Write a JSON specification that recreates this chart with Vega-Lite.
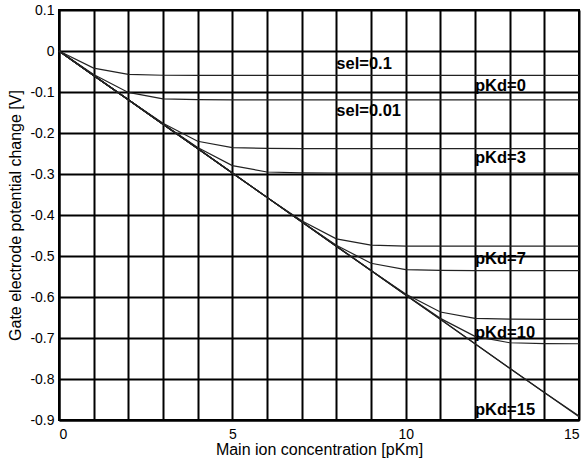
{
  "$schema": "https://vega.github.io/schema/vega-lite/v6.json",
  "autosize": "none",
  "width": 520,
  "height": 410,
  "padding": {"left": 59, "top": 10, "right": 9, "bottom": 46},
  "background": "white",
  "config": {
    "font": "Liberation Sans",
    "view": {"stroke": "black", "strokeWidth": 2},
    "axis": {
      "domainColor": "black", "domainWidth": 2,
      "gridColor": "black", "gridWidth": 2, "gridOpacity": 1,
      "ticks": false, "tickSize": 0,
      "labelFont": "Liberation Sans", "labelFontSize": 14, "labelColor": "black",
      "titleFont": "Liberation Sans", "titleFontSize": 16, "titleFontWeight": "normal", "titleColor": "black"
    }
  },
  "datasets": {
    "curves": [
      {"pKm": 0, "E": 0, "series": "pKd=0 sel=0.1"},
      {"pKm": 1, "E": -0.0416, "series": "pKd=0 sel=0.1"},
      {"pKm": 2, "E": -0.0571, "series": "pKd=0 sel=0.1"},
      {"pKm": 3, "E": -0.0592, "series": "pKd=0 sel=0.1"},
      {"pKm": 4, "E": -0.0595, "series": "pKd=0 sel=0.1"},
      {"pKm": 5, "E": -0.0595, "series": "pKd=0 sel=0.1"},
      {"pKm": 6, "E": -0.0595, "series": "pKd=0 sel=0.1"},
      {"pKm": 7, "E": -0.0595, "series": "pKd=0 sel=0.1"},
      {"pKm": 8, "E": -0.0595, "series": "pKd=0 sel=0.1"},
      {"pKm": 9, "E": -0.0595, "series": "pKd=0 sel=0.1"},
      {"pKm": 10, "E": -0.0595, "series": "pKd=0 sel=0.1"},
      {"pKm": 11, "E": -0.0595, "series": "pKd=0 sel=0.1"},
      {"pKm": 12, "E": -0.0595, "series": "pKd=0 sel=0.1"},
      {"pKm": 13, "E": -0.0595, "series": "pKd=0 sel=0.1"},
      {"pKm": 14, "E": -0.0595, "series": "pKd=0 sel=0.1"},
      {"pKm": 15, "E": -0.0595, "series": "pKd=0 sel=0.1"},

      {"pKm": 0, "E": 0, "series": "pKd=0 sel=0.01"},
      {"pKm": 1, "E": -0.0571, "series": "pKd=0 sel=0.01"},
      {"pKm": 2, "E": -0.1011, "series": "pKd=0 sel=0.01"},
      {"pKm": 3, "E": -0.1166, "series": "pKd=0 sel=0.01"},
      {"pKm": 4, "E": -0.1187, "series": "pKd=0 sel=0.01"},
      {"pKm": 5, "E": -0.119, "series": "pKd=0 sel=0.01"},
      {"pKm": 6, "E": -0.119, "series": "pKd=0 sel=0.01"},
      {"pKm": 7, "E": -0.119, "series": "pKd=0 sel=0.01"},
      {"pKm": 8, "E": -0.119, "series": "pKd=0 sel=0.01"},
      {"pKm": 9, "E": -0.119, "series": "pKd=0 sel=0.01"},
      {"pKm": 10, "E": -0.119, "series": "pKd=0 sel=0.01"},
      {"pKm": 11, "E": -0.119, "series": "pKd=0 sel=0.01"},
      {"pKm": 12, "E": -0.119, "series": "pKd=0 sel=0.01"},
      {"pKm": 13, "E": -0.119, "series": "pKd=0 sel=0.01"},
      {"pKm": 14, "E": -0.119, "series": "pKd=0 sel=0.01"},
      {"pKm": 15, "E": -0.119, "series": "pKd=0 sel=0.01"},

      {"pKm": 0, "E": 0, "series": "pKd=3 sel=0.1"},
      {"pKm": 1, "E": -0.0595, "series": "pKd=3 sel=0.1"},
      {"pKm": 2, "E": -0.119, "series": "pKd=3 sel=0.1"},
      {"pKm": 3, "E": -0.1761, "series": "pKd=3 sel=0.1"},
      {"pKm": 4, "E": -0.2201, "series": "pKd=3 sel=0.1"},
      {"pKm": 5, "E": -0.2356, "series": "pKd=3 sel=0.1"},
      {"pKm": 6, "E": -0.2377, "series": "pKd=3 sel=0.1"},
      {"pKm": 7, "E": -0.238, "series": "pKd=3 sel=0.1"},
      {"pKm": 8, "E": -0.238, "series": "pKd=3 sel=0.1"},
      {"pKm": 9, "E": -0.238, "series": "pKd=3 sel=0.1"},
      {"pKm": 10, "E": -0.238, "series": "pKd=3 sel=0.1"},
      {"pKm": 11, "E": -0.238, "series": "pKd=3 sel=0.1"},
      {"pKm": 12, "E": -0.238, "series": "pKd=3 sel=0.1"},
      {"pKm": 13, "E": -0.238, "series": "pKd=3 sel=0.1"},
      {"pKm": 14, "E": -0.238, "series": "pKd=3 sel=0.1"},
      {"pKm": 15, "E": -0.238, "series": "pKd=3 sel=0.1"},

      {"pKm": 0, "E": 0, "series": "pKd=3 sel=0.01"},
      {"pKm": 1, "E": -0.0595, "series": "pKd=3 sel=0.01"},
      {"pKm": 2, "E": -0.119, "series": "pKd=3 sel=0.01"},
      {"pKm": 3, "E": -0.1782, "series": "pKd=3 sel=0.01"},
      {"pKm": 4, "E": -0.2356, "series": "pKd=3 sel=0.01"},
      {"pKm": 5, "E": -0.2796, "series": "pKd=3 sel=0.01"},
      {"pKm": 6, "E": -0.2951, "series": "pKd=3 sel=0.01"},
      {"pKm": 7, "E": -0.2972, "series": "pKd=3 sel=0.01"},
      {"pKm": 8, "E": -0.2975, "series": "pKd=3 sel=0.01"},
      {"pKm": 9, "E": -0.2975, "series": "pKd=3 sel=0.01"},
      {"pKm": 10, "E": -0.2975, "series": "pKd=3 sel=0.01"},
      {"pKm": 11, "E": -0.2975, "series": "pKd=3 sel=0.01"},
      {"pKm": 12, "E": -0.2975, "series": "pKd=3 sel=0.01"},
      {"pKm": 13, "E": -0.2975, "series": "pKd=3 sel=0.01"},
      {"pKm": 14, "E": -0.2975, "series": "pKd=3 sel=0.01"},
      {"pKm": 15, "E": -0.2975, "series": "pKd=3 sel=0.01"},

      {"pKm": 0, "E": 0, "series": "pKd=7 sel=0.1"},
      {"pKm": 1, "E": -0.0595, "series": "pKd=7 sel=0.1"},
      {"pKm": 2, "E": -0.119, "series": "pKd=7 sel=0.1"},
      {"pKm": 3, "E": -0.1785, "series": "pKd=7 sel=0.1"},
      {"pKm": 4, "E": -0.238, "series": "pKd=7 sel=0.1"},
      {"pKm": 5, "E": -0.2975, "series": "pKd=7 sel=0.1"},
      {"pKm": 6, "E": -0.357, "series": "pKd=7 sel=0.1"},
      {"pKm": 7, "E": -0.4141, "series": "pKd=7 sel=0.1"},
      {"pKm": 8, "E": -0.4581, "series": "pKd=7 sel=0.1"},
      {"pKm": 9, "E": -0.4736, "series": "pKd=7 sel=0.1"},
      {"pKm": 10, "E": -0.4757, "series": "pKd=7 sel=0.1"},
      {"pKm": 11, "E": -0.476, "series": "pKd=7 sel=0.1"},
      {"pKm": 12, "E": -0.476, "series": "pKd=7 sel=0.1"},
      {"pKm": 13, "E": -0.476, "series": "pKd=7 sel=0.1"},
      {"pKm": 14, "E": -0.476, "series": "pKd=7 sel=0.1"},
      {"pKm": 15, "E": -0.476, "series": "pKd=7 sel=0.1"},

      {"pKm": 0, "E": 0, "series": "pKd=7 sel=0.01"},
      {"pKm": 1, "E": -0.0595, "series": "pKd=7 sel=0.01"},
      {"pKm": 2, "E": -0.119, "series": "pKd=7 sel=0.01"},
      {"pKm": 3, "E": -0.1785, "series": "pKd=7 sel=0.01"},
      {"pKm": 4, "E": -0.238, "series": "pKd=7 sel=0.01"},
      {"pKm": 5, "E": -0.2975, "series": "pKd=7 sel=0.01"},
      {"pKm": 6, "E": -0.357, "series": "pKd=7 sel=0.01"},
      {"pKm": 7, "E": -0.4162, "series": "pKd=7 sel=0.01"},
      {"pKm": 8, "E": -0.4736, "series": "pKd=7 sel=0.01"},
      {"pKm": 9, "E": -0.5176, "series": "pKd=7 sel=0.01"},
      {"pKm": 10, "E": -0.5331, "series": "pKd=7 sel=0.01"},
      {"pKm": 11, "E": -0.5352, "series": "pKd=7 sel=0.01"},
      {"pKm": 12, "E": -0.5355, "series": "pKd=7 sel=0.01"},
      {"pKm": 13, "E": -0.5355, "series": "pKd=7 sel=0.01"},
      {"pKm": 14, "E": -0.5355, "series": "pKd=7 sel=0.01"},
      {"pKm": 15, "E": -0.5355, "series": "pKd=7 sel=0.01"},

      {"pKm": 0, "E": 0, "series": "pKd=10 sel=0.1"},
      {"pKm": 1, "E": -0.0595, "series": "pKd=10 sel=0.1"},
      {"pKm": 2, "E": -0.119, "series": "pKd=10 sel=0.1"},
      {"pKm": 3, "E": -0.1785, "series": "pKd=10 sel=0.1"},
      {"pKm": 4, "E": -0.238, "series": "pKd=10 sel=0.1"},
      {"pKm": 5, "E": -0.2975, "series": "pKd=10 sel=0.1"},
      {"pKm": 6, "E": -0.357, "series": "pKd=10 sel=0.1"},
      {"pKm": 7, "E": -0.4165, "series": "pKd=10 sel=0.1"},
      {"pKm": 8, "E": -0.476, "series": "pKd=10 sel=0.1"},
      {"pKm": 9, "E": -0.5352, "series": "pKd=10 sel=0.1"},
      {"pKm": 10, "E": -0.5926, "series": "pKd=10 sel=0.1"},
      {"pKm": 11, "E": -0.6366, "series": "pKd=10 sel=0.1"},
      {"pKm": 12, "E": -0.6521, "series": "pKd=10 sel=0.1"},
      {"pKm": 13, "E": -0.6542, "series": "pKd=10 sel=0.1"},
      {"pKm": 14, "E": -0.6545, "series": "pKd=10 sel=0.1"},
      {"pKm": 15, "E": -0.6545, "series": "pKd=10 sel=0.1"},

      {"pKm": 0, "E": 0, "series": "pKd=10 sel=0.01"},
      {"pKm": 1, "E": -0.0595, "series": "pKd=10 sel=0.01"},
      {"pKm": 2, "E": -0.119, "series": "pKd=10 sel=0.01"},
      {"pKm": 3, "E": -0.1785, "series": "pKd=10 sel=0.01"},
      {"pKm": 4, "E": -0.238, "series": "pKd=10 sel=0.01"},
      {"pKm": 5, "E": -0.2975, "series": "pKd=10 sel=0.01"},
      {"pKm": 6, "E": -0.357, "series": "pKd=10 sel=0.01"},
      {"pKm": 7, "E": -0.4165, "series": "pKd=10 sel=0.01"},
      {"pKm": 8, "E": -0.476, "series": "pKd=10 sel=0.01"},
      {"pKm": 9, "E": -0.5355, "series": "pKd=10 sel=0.01"},
      {"pKm": 10, "E": -0.5947, "series": "pKd=10 sel=0.01"},
      {"pKm": 11, "E": -0.6521, "series": "pKd=10 sel=0.01"},
      {"pKm": 12, "E": -0.6961, "series": "pKd=10 sel=0.01"},
      {"pKm": 13, "E": -0.7116, "series": "pKd=10 sel=0.01"},
      {"pKm": 14, "E": -0.7137, "series": "pKd=10 sel=0.01"},
      {"pKm": 15, "E": -0.714, "series": "pKd=10 sel=0.01"},

      {"pKm": 0, "E": 0, "series": "pKd=15 sel=0.1"},
      {"pKm": 1, "E": -0.0595, "series": "pKd=15 sel=0.1"},
      {"pKm": 2, "E": -0.119, "series": "pKd=15 sel=0.1"},
      {"pKm": 3, "E": -0.1785, "series": "pKd=15 sel=0.1"},
      {"pKm": 4, "E": -0.238, "series": "pKd=15 sel=0.1"},
      {"pKm": 5, "E": -0.2975, "series": "pKd=15 sel=0.1"},
      {"pKm": 6, "E": -0.357, "series": "pKd=15 sel=0.1"},
      {"pKm": 7, "E": -0.4165, "series": "pKd=15 sel=0.1"},
      {"pKm": 8, "E": -0.476, "series": "pKd=15 sel=0.1"},
      {"pKm": 9, "E": -0.5355, "series": "pKd=15 sel=0.1"},
      {"pKm": 10, "E": -0.595, "series": "pKd=15 sel=0.1"},
      {"pKm": 11, "E": -0.6545, "series": "pKd=15 sel=0.1"},
      {"pKm": 12, "E": -0.714, "series": "pKd=15 sel=0.1"},
      {"pKm": 13, "E": -0.7735, "series": "pKd=15 sel=0.1"},
      {"pKm": 14, "E": -0.8327, "series": "pKd=15 sel=0.1"},
      {"pKm": 15, "E": -0.8901, "series": "pKd=15 sel=0.1"},

      {"pKm": 0, "E": 0, "series": "pKd=15 sel=0.01"},
      {"pKm": 1, "E": -0.0595, "series": "pKd=15 sel=0.01"},
      {"pKm": 2, "E": -0.119, "series": "pKd=15 sel=0.01"},
      {"pKm": 3, "E": -0.1785, "series": "pKd=15 sel=0.01"},
      {"pKm": 4, "E": -0.238, "series": "pKd=15 sel=0.01"},
      {"pKm": 5, "E": -0.2975, "series": "pKd=15 sel=0.01"},
      {"pKm": 6, "E": -0.357, "series": "pKd=15 sel=0.01"},
      {"pKm": 7, "E": -0.4165, "series": "pKd=15 sel=0.01"},
      {"pKm": 8, "E": -0.476, "series": "pKd=15 sel=0.01"},
      {"pKm": 9, "E": -0.5355, "series": "pKd=15 sel=0.01"},
      {"pKm": 10, "E": -0.595, "series": "pKd=15 sel=0.01"},
      {"pKm": 11, "E": -0.6545, "series": "pKd=15 sel=0.01"},
      {"pKm": 12, "E": -0.714, "series": "pKd=15 sel=0.01"},
      {"pKm": 13, "E": -0.7735, "series": "pKd=15 sel=0.01"},
      {"pKm": 14, "E": -0.833, "series": "pKd=15 sel=0.01"},
      {"pKm": 15, "E": -0.8922, "series": "pKd=15 sel=0.01"}
    ],
    "labels": [
      {"pKm": 8, "E": -0.0446, "label": "sel=0.1"},
      {"pKm": 8, "E": -0.1585, "label": "sel=0.01"},
      {"pKm": 12, "E": -0.0976, "label": "pKd=0"},
      {"pKm": 12, "E": -0.272, "label": "pKd=3"},
      {"pKm": 12, "E": -0.52, "label": "pKd=7"},
      {"pKm": 12, "E": -0.699, "label": "pKd=10"},
      {"pKm": 12, "E": -0.889, "label": "pKd=15"}
    ]
  },
  "encoding": {
    "x": {
      "field": "pKm", "type": "quantitative",
      "scale": {"domain": [0, 15], "nice": false, "zero": false},
      "axis": {
        "title": "Main ion concentration [pKm]",
        "values": [0,1,2,3,4,5,6,7,8,9,10,11,12,13,14,15],
        "labelExpr": "datum.value % 5 === 0 ? '' + datum.value : ''",
        "labelPadding": 7,
        "labelBaseline": "top",
        "titlePadding": 0
      }
    },
    "y": {
      "field": "E", "type": "quantitative",
      "scale": {"domain": [-0.9, 0.1], "nice": false, "zero": false},
      "axis": {
        "title": "Gate electrode potential change [V]",
        "values": [0.1, 0, -0.1, -0.2, -0.3, -0.4, -0.5, -0.6, -0.7, -0.8, -0.9],
        "labelExpr": "'' + datum.value",
        "labelPadding": 5,
        "titlePadding": 6
      }
    }
  },
  "layer": [
    {
      "data": {"name": "curves"},
      "mark": {"type": "line", "color": "#222222", "strokeWidth": 1.2},
      "encoding": {"detail": {"field": "series", "type": "nominal"}}
    },
    {
      "data": {"name": "labels"},
      "mark": {"type": "text", "align": "left", "baseline": "alphabetic", "font": "Liberation Sans", "fontSize": 16.5, "fontWeight": "bold", "color": "black"},
      "encoding": {"text": {"field": "label", "type": "nominal"}}
    }
  ]
}
